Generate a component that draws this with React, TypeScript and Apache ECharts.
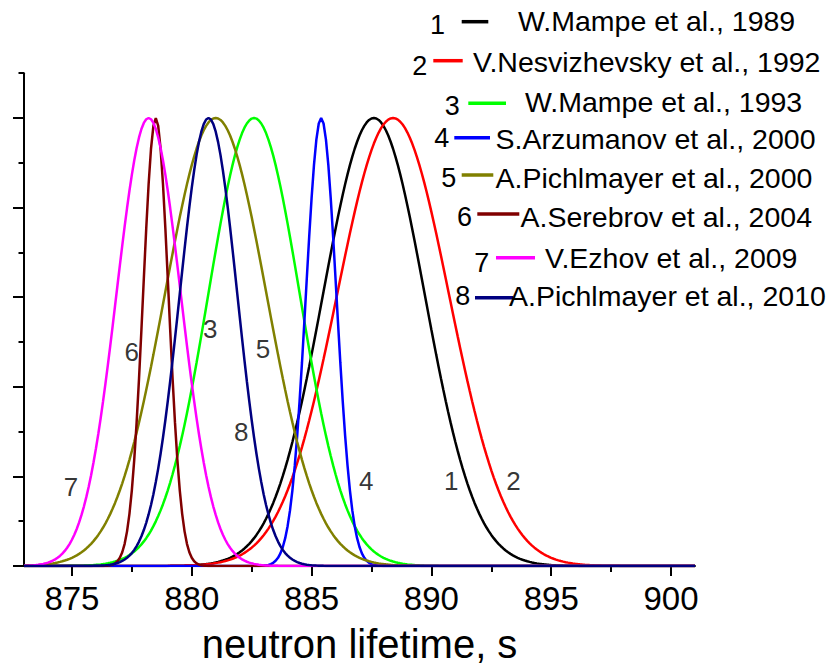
import React, { useEffect, useRef } from "react";
import * as echarts from "echarts";

// ---- data ----
const seriesIds = ["1", "2", "3", "4", "5", "6", "7", "8"];
const seriesNames = [
  "W.Mampe et al., 1989",
  "V.Nesvizhevsky et al., 1992",
  "W.Mampe et al., 1993",
  "S.Arzumanov et al., 2000",
  "A.Pichlmayer et al., 2000",
  "A.Serebrov et al., 2004",
  "V.Ezhov et al., 2009",
  "A.Pichlmayer et al., 2010",
];
// peak position (s) and width parameter (s) of each distribution
const lifetimes = [887.6, 888.4, 882.6, 885.4, 881.0, 878.5, 878.2, 880.7];
const widths = [3.0, 3.3, 2.7, 0.9, 3.0, 0.75, 1.9, 1.7];
const colors = ["#000000", "#ff0000", "#00ff00", "#0000ff", "#808000", "#800000", "#ff00ff", "#000080"];

const xMin = 873;
const xMax = 901;
const xStep = 0.1;
const xTickLabels = [875, 880, 885, 890, 895, 900];
const xMinorTicks = [877.5, 882.5, 887.5, 892.5, 897.5];
const yMax = 1.1;
const yMajorTicks = [0, 0.2, 0.4, 0.6, 0.8, 1.0];
const yMinorTicks = [0.1, 0.3, 0.5, 0.7, 0.9, 1.1];

// curve number annotations (data coordinates)
const curveLabelIds = ["7", "6", "3", "5", "8", "4", "1", "2"];
const curveLabelX = [874.96, 877.5, 880.77, 882.97, 882.06, 887.28, 890.83, 893.43];
const curveLabelY = [0.176, 0.478, 0.529, 0.484, 0.3, 0.19, 0.19, 0.19];

// ---- legend layout (pixels) ----
// [numberCenterX, numberCenterY, lineX1, lineX2, lineY, textLeftX, textCenterY]
const legendLayout = [
  [437.5, 25, 461.7, 488.3, 21.7, 518, 20.5],
  [419.7, 65.8, 433.3, 462.7, 60.7, 473, 62],
  [452.2, 105.8, 468.3, 506, 103.3, 525, 102.2],
  [441.8, 138.3, 454.3, 490, 137.7, 495.5, 139.2],
  [448.8, 178.3, 461.7, 493.3, 175, 495.5, 178],
  [464.5, 217, 477.3, 519.3, 214, 520.5, 216.7],
  [481.7, 262.5, 496, 535, 257.7, 545, 257.5],
  [462.8, 295.8, 475, 513.3, 297.7, 509, 296.3],
];

const FONT = '"Liberation Sans", Arial, sans-serif';

function buildOption() {
  const xs: number[] = [];
  const n = Math.round((xMax - xMin) / xStep);
  for (let i = 0; i <= n; i++) xs.push(+(xMin + i * xStep).toFixed(4));

  const lineSeries = seriesIds.map((id, k) => ({
    type: "line",
    name: seriesNames[k],
    xAxisIndex: 0,
    yAxisIndex: 0,
    showSymbol: false,
    symbol: "none",
    silent: true,
    lineStyle: { color: colors[k], width: 2.5 },
    itemStyle: { color: colors[k] },
    data: xs.map((x) => {
      const u = (x - lifetimes[k]) / widths[k];
      return [x, Math.exp(-u * u)];
    }),
  }));

  const labelSeries = {
    type: "scatter",
    xAxisIndex: 0,
    yAxisIndex: 0,
    silent: true,
    symbolSize: 1,
    itemStyle: { color: "transparent" },
    z: 10,
    label: {
      show: true,
      position: "inside",
      formatter: "{b}",
      fontSize: 26,
      fontFamily: FONT,
      color: "#000",
    },
    data: curveLabelIds.map((id, i) => ({ name: id, value: [curveLabelX[i], curveLabelY[i]] })),
  };

  const graphics: any[] = [];
  legendLayout.forEach((r, k) => {
    graphics.push({
      type: "text",
      x: r[0],
      y: r[1],
      silent: true,
      style: {
        text: seriesIds[k],
        fontSize: 27,
        fontFamily: FONT,
        fill: "#000",
        align: "center",
        verticalAlign: "middle",
      },
    });
    graphics.push({
      type: "line",
      silent: true,
      shape: { x1: r[2], y1: r[4], x2: r[3], y2: r[4] },
      style: { stroke: colors[k], lineWidth: 3.5 },
    });
    graphics.push({
      type: "text",
      x: r[5],
      y: r[6],
      silent: true,
      style: {
        text: seriesNames[k],
        fontSize: 28.5,
        fontFamily: FONT,
        fill: "#000",
        align: "left",
        verticalAlign: "middle",
      },
    });
  });

  return {
    animation: false,
    backgroundColor: "#ffffff",
    grid: { left: 24, right: 139, top: 73.2, bottom: 103, containLabel: false },
    xAxis: [
      {
        type: "value",
        position: "bottom",
        min: xMin,
        max: xMax,
        name: "neutron lifetime, s",
        nameLocation: "middle",
        nameGap: 58,
        nameTextStyle: { fontSize: 40, fontFamily: FONT, color: "#000" },
        axisLine: { show: true, onZero: false, lineStyle: { color: "#000", width: 2 } },
        axisTick: { show: true, customValues: xTickLabels, length: 10, lineStyle: { color: "#000", width: 2 } },
        axisLabel: {
          show: true,
          customValues: xTickLabels,
          fontSize: 33,
          fontFamily: FONT,
          color: "#000",
          margin: 16,
        },
        splitLine: { show: false },
      },
      {
        type: "value",
        position: "bottom",
        min: xMin,
        max: xMax,
        axisLine: { show: false },
        axisTick: { show: true, customValues: xMinorTicks, length: 6, lineStyle: { color: "#000", width: 2 } },
        axisLabel: { show: false },
        splitLine: { show: false },
      },
    ],
    yAxis: [
      {
        type: "value",
        position: "left",
        min: 0,
        max: yMax,
        axisLine: { show: true, onZero: false, lineStyle: { color: "#000", width: 2 } },
        axisTick: { show: true, customValues: yMajorTicks, length: 11, lineStyle: { color: "#000", width: 2 } },
        axisLabel: { show: false },
        splitLine: { show: false },
      },
      {
        type: "value",
        position: "left",
        min: 0,
        max: yMax,
        axisLine: { show: false },
        axisTick: { show: true, customValues: yMinorTicks, length: 5.5, lineStyle: { color: "#000", width: 2 } },
        axisLabel: { show: false },
        splitLine: { show: false },
      },
    ],
    series: [...lineSeries, labelSeries],
    graphic: graphics,
  };
}

export default function App() {
  const ref = useRef<HTMLDivElement>(null);
  useEffect(() => {
    if (!ref.current) return;
    const chart = echarts.init(ref.current, null, { renderer: "svg" });
    chart.setOption(buildOption() as any);
    return () => chart.dispose();
  }, []);
  return (
    <div
      ref={ref}
      style={{ position: "fixed", left: 0, top: 0, width: 834, height: 669, background: "#fff" }}
    />
  );
}
